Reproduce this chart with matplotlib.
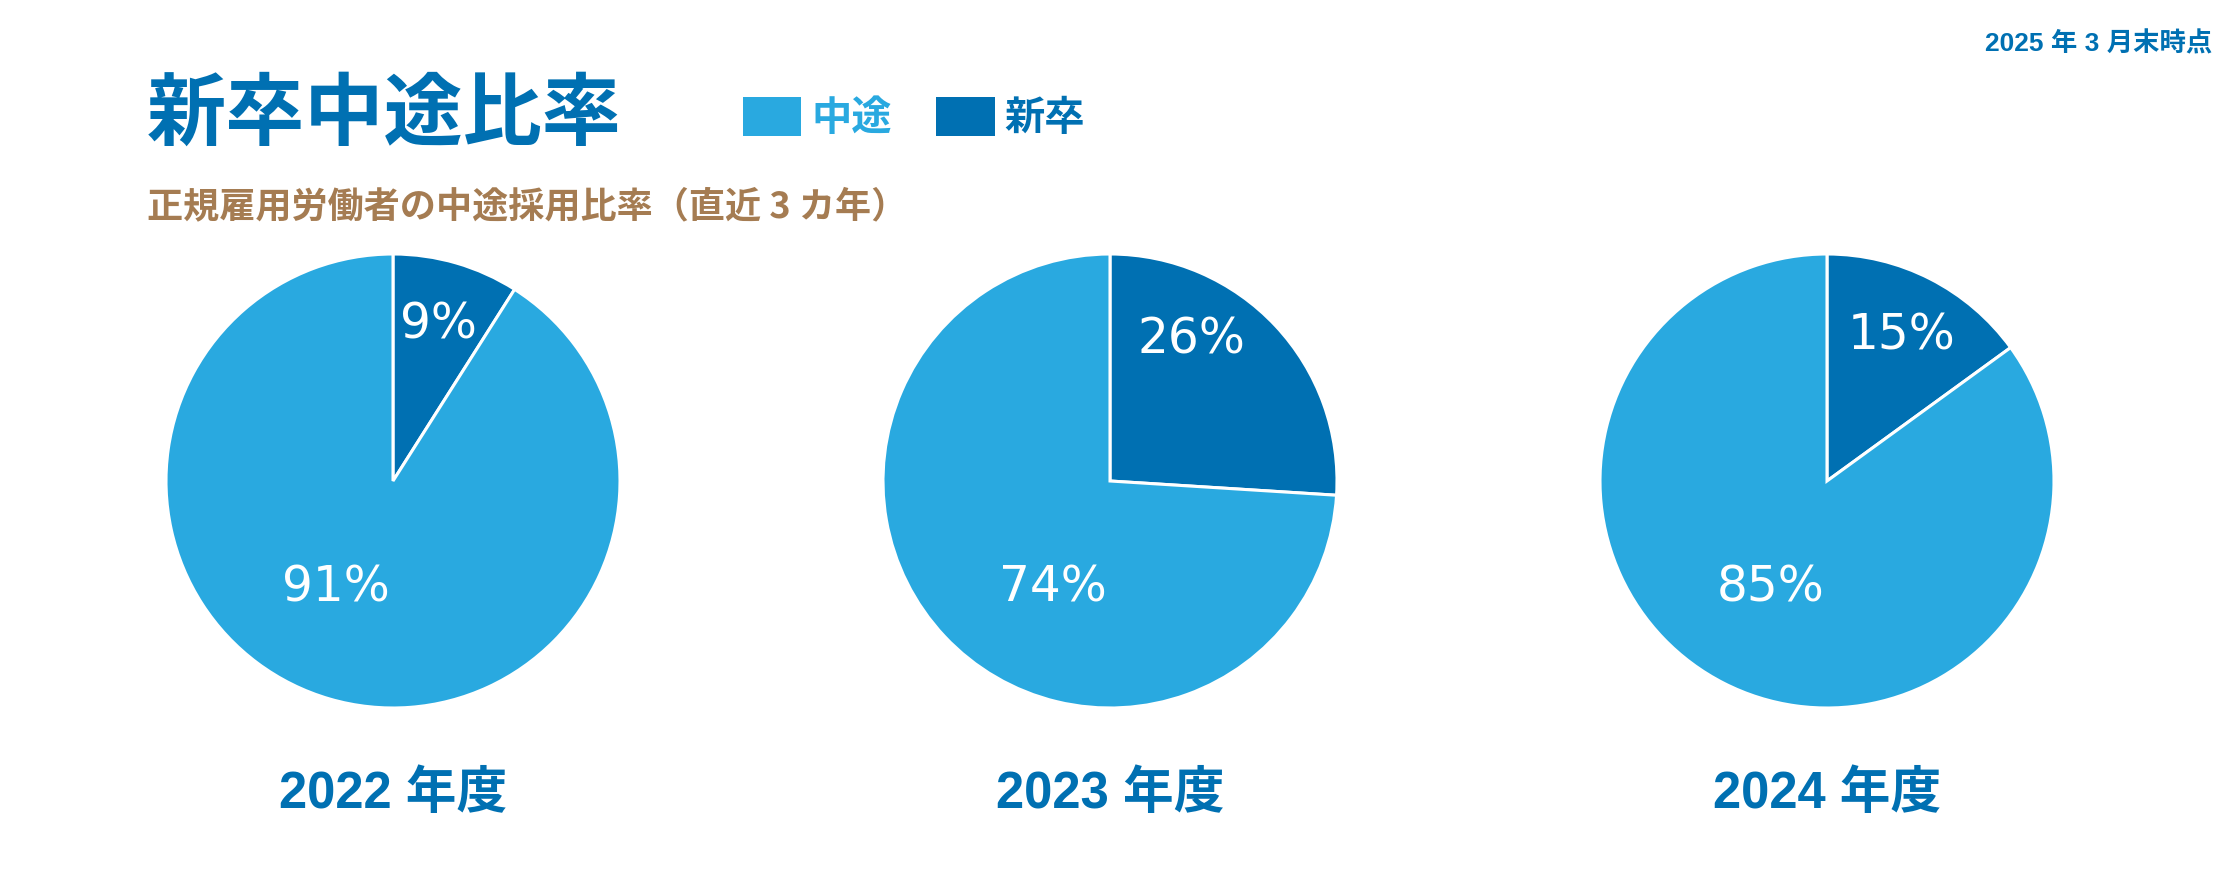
import matplotlib
matplotlib.use('Agg')
import matplotlib.pyplot as plt
import matplotlib.patches as mpatches
import numpy as np

plt.rcParams['font.family'] = ['Liberation Sans', 'Noto Sans CJK JP', 'DejaVu Sans']

# data
years = ['2022 年度', '2023 年度', '2024 年度']
series_names = ['新卒', '中途']
shinsotsu = [9, 26, 15]
chuto = [91, 74, 85]

DARK = '#0070B2'
LIGHT = '#29A9E0'
BROWN = '#A57C52'

W, H = 2240, 896
fig = plt.figure(figsize=(W / 100, H / 100), dpi=100)

radius_px = 227
centers_x = [393, 1110, 1827]
center_y = 481


def px_axes(cx, cy, r):
    return fig.add_axes([(cx - r) / W, (H - cy - r) / H, 2 * r / W, 2 * r / H])


for i, year in enumerate(years):
    ax = px_axes(centers_x[i], center_y, radius_px)
    vals = [shinsotsu[i], chuto[i]]
    wedges, texts, autotexts = ax.pie(
        vals, colors=[DARK, LIGHT], startangle=90, counterclock=False, radius=1,
        wedgeprops=dict(edgecolor='white', linewidth=2.2),
        autopct=lambda p: f'{p:.0f}%', pctdistance=0.74,
        textprops=dict(color='white', fontsize=35, family=['DejaVu Sans']))
    # small slice label: keep it up near the top of the wedge
    mid = vals[0] / sum(vals) * 360 / 2
    ang = np.radians(min(mid, 30))
    autotexts[0].set_position((0.72 * np.sin(ang), 0.72 * np.cos(ang)))
    # large slice label: lower-left area
    autotexts[1].set_position((-0.25, -0.47))
    ax.set_xlim(-1, 1)
    ax.set_ylim(-1, 1)
    ax.set_aspect('equal')
    ax.axis('off')
    fig.text(centers_x[i] / W, 1 - 794 / H, year, ha='center', va='center',
             fontsize=36.5, fontweight='bold', color=DARK)

# title and notes
fig.text(147 / W, 1 - 115 / H, '新卒中途比率', ha='left', va='center',
         fontsize=57, fontweight='bold', color=DARK, family=['Noto Sans CJK JP'])
fig.text(147 / W, 1 - 207 / H, '正規雇用労働者の中途採用比率（直近 3 カ年）', ha='left', va='center',
         fontsize=26, fontweight='bold', color=BROWN, family=['Noto Sans CJK JP'])
fig.text(2212 / W, 1 - 44 / H, '2025 年 3 月末時点', ha='right', va='center',
         fontsize=19, fontweight='bold', color=DARK)

# legend
handles = [mpatches.Patch(facecolor=LIGHT, edgecolor='none', label=series_names[1]),
           mpatches.Patch(facecolor=DARK, edgecolor='none', label=series_names[0])]
leg = fig.legend(handles=handles, loc='center left', bbox_to_anchor=(743 / W, 1 - 118 / H),
                 ncol=2, frameon=False, handlelength=1.45, handleheight=1.1,
                 handletextpad=0.25, columnspacing=1.1, borderpad=0, borderaxespad=0,
                 prop=dict(family=['Noto Sans CJK JP'], weight='bold', size=29))
for t, c in zip(leg.get_texts(), [LIGHT, DARK]):
    t.set_color(c)

fig.savefig('out.png', dpi=100, facecolor='white')
